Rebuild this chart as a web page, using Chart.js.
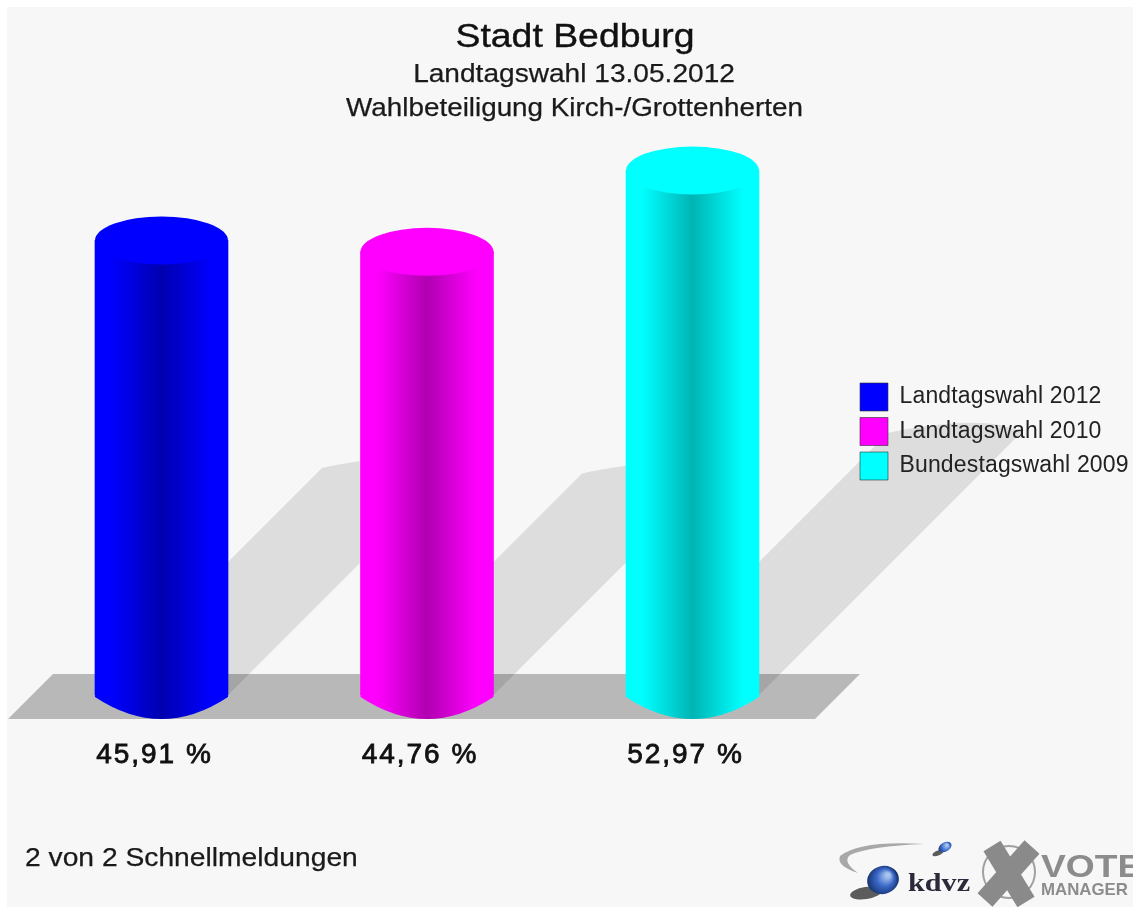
<!DOCTYPE html>
<html>
<head>
<meta charset="utf-8">
<style>
html,body{margin:0;padding:0;background:#f7f7f7;}
canvas{display:block;filter:blur(0.7px);}
</style>
<script src="https://cdn.jsdelivr.net/npm/chart.js@4/dist/chart.umd.min.js"></script>
</head>
<body>
<div style="width:1133px;height:907px"><canvas id="c" width="1133" height="907"></canvas></div>
<script>
const categories = ['Landtagswahl 2012','Landtagswahl 2010','Bundestagswahl 2009'];
const values = [45.91,44.76,52.97];
const tickLabels = ['45,91 %','44,76 %','52,97 %'];
const edgeColors = ['#0000ff','#ff00ff','#00ffff'];
const coreColors = ['#0000b0','#b000b0','#00b4b4'];
const titleLines = ['Stadt Bedburg','Landtagswahl 13.05.2012','Wahlbeteiligung Kirch-/Grottenherten'];
const footerText = '2 von 2 Schnellmeldungen';

const FONT = '"Liberation Sans", Arial, sans-serif';
const BAR_W = 133;
const TOP_RY = 24;

function barGradient(chart,i){
  const x = chart.scales.x.getPixelForValue(i);
  const g = chart.ctx.createLinearGradient(x-BAR_W/2,0,x+BAR_W/2,0);
  g.addColorStop(0,edgeColors[i]);
  g.addColorStop(0.12,edgeColors[i]);
  g.addColorStop(0.5,coreColors[i]);
  g.addColorStop(0.88,edgeColors[i]);
  g.addColorStop(1,edgeColors[i]);
  return g;
}

function text(ctx,str,x,y,font,color,sx,align,stroke){
  ctx.save();
  ctx.translate(x,y);
  ctx.scale(sx||1,1);
  ctx.font = font; ctx.fillStyle = color;
  ctx.letterSpacing = '0px';
  ctx.textAlign = align||'left'; ctx.textBaseline='alphabetic';
  ctx.fillText(str,0,0);
  if(stroke){ctx.strokeStyle=color;ctx.lineWidth=stroke;ctx.strokeText(str,0,0);}
  ctx.restore();
}

function drawLogo(ctx){
  ctx.save();
  // swoosh
  ctx.fillStyle='#a8a8a8';
  ctx.beginPath();
  ctx.moveTo(925,844);
  ctx.quadraticCurveTo(860,840,840,856);
  ctx.quadraticCurveTo(836,866,858,873);
  ctx.quadraticCurveTo(842,862,850,855);
  ctx.quadraticCurveTo(870,846,925,844);
  ctx.fill();
  // sphere shadows
  ctx.fillStyle='rgba(40,40,40,0.75)';
  ctx.beginPath(); ctx.ellipse(866,893,16,6,-0.15,0,Math.PI*2); ctx.fill();
  ctx.beginPath(); ctx.ellipse(938,853,6,2.5,-0.4,0,Math.PI*2); ctx.fill();
  // spheres
  let g=ctx.createRadialGradient(888,875,2,882,881,17);
  g.addColorStop(0,'#a8c4ee'); g.addColorStop(0.45,'#3a68c8'); g.addColorStop(1,'#10285c');
  ctx.fillStyle=g; ctx.beginPath(); ctx.ellipse(883,880,16,14,-0.3,0,Math.PI*2); ctx.fill();
  g=ctx.createRadialGradient(947,845,1,945,848,8);
  g.addColorStop(0,'#a8c4ee'); g.addColorStop(0.5,'#3a68c8'); g.addColorStop(1,'#10285c');
  ctx.fillStyle=g; ctx.beginPath(); ctx.ellipse(945,847,7,4.5,-0.5,0,Math.PI*2); ctx.fill();
  text(ctx,'kdvz',908,891,'bold 26px "Liberation Serif", serif','#2a2a3a',1.16);
  // circle and cross
  ctx.strokeStyle='#a0a0a0'; ctx.lineWidth=2;
  ctx.beginPath(); ctx.arc(1009,872,26,0,Math.PI*2); ctx.stroke();
  ctx.strokeStyle='#8a8a8a'; ctx.lineWidth=20; ctx.lineCap='butt';
  ctx.beginPath(); ctx.moveTo(992,846); ctx.lineTo(1026,902); ctx.stroke();
  ctx.beginPath(); ctx.moveTo(1032,847); ctx.lineTo(985,900); ctx.stroke();
  text(ctx,'VOTE',1041,877,'bold 31px '+FONT,'#8c8c8c',1.2);
  text(ctx,'MANAGER',1041,895,'bold 17px '+FONT,'#8c8c8c',0.99);
  ctx.restore();
}

const cylinderPlugin = {
  id:'cylinders',
  afterLayout(chart){
    const lg = chart.legend;
    const h = lg.height;
    lg.left = 853.5; lg.right = 1133; lg.width = lg.right-lg.left;
    lg.top = 376.5; lg.bottom = lg.top+h;
  },
  beforeDraw(chart){
    const ctx = chart.ctx, xs = chart.scales.x, ys = chart.scales.y;
    const base = ys.getPixelForValue(0);
    ctx.save();
    ctx.fillStyle='#ffffff';
    ctx.fillRect(0,0,chart.width,chart.height);
    ctx.fillStyle='#f7f7f7';
    ctx.fillRect(7,7,chart.width-7,chart.height-7);
    // floor
    ctx.fillStyle='#b8b8b8';
    ctx.beginPath();
    ctx.moveTo(8,base+24); ctx.lineTo(53,base-21); ctx.lineTo(860,base-21); ctx.lineTo(815,base+24);
    ctx.closePath(); ctx.fill();
    // sheared shadows
    ctx.fillStyle='rgba(0,0,0,0.1)';
    values.forEach((v,i)=>{
      const cx = xs.getPixelForValue(i);
      const s = (base-ys.getPixelForValue(v))/2;
      const r = BAR_W/2, tx = cx+s, ty = base-s;
      ctx.beginPath();
      ctx.moveTo(cx-r,base);
      ctx.lineTo(tx-r,ty);
      ctx.bezierCurveTo(tx-30,ty-8,tx+40,ty-18,tx+r,ty);
      ctx.lineTo(cx+r,base);
      ctx.closePath();
      ctx.fill();
    });
    ctx.restore();
    ctx.letterSpacing='0.15px';
  },
  afterDatasetsDraw(chart){
    const ctx = chart.ctx, xs = chart.scales.x, ys = chart.scales.y;
    const base = ys.getPixelForValue(0);
    ctx.save();
    values.forEach((v,i)=>{
      const cx = xs.getPixelForValue(i), top = ys.getPixelForValue(v), r = BAR_W/2;
      ctx.fillStyle = barGradient(chart,i);
      ctx.beginPath();
      ctx.moveTo(cx-r,base-1);
      ctx.lineTo(cx-r,base+2);
      ctx.quadraticCurveTo(cx,base+46,cx+r,base+2);
      ctx.lineTo(cx+r,base-1);
      ctx.closePath();
      ctx.fill();
      ctx.fillStyle = edgeColors[i];
      ctx.beginPath();
      ctx.ellipse(cx,top,r,TOP_RY,0,0,Math.PI*2);
      ctx.fill();
    });
    ctx.restore();
    ctx.letterSpacing='2px';
  },
  afterDraw(chart){
    const ctx = chart.ctx;
    ctx.letterSpacing='0px';
    const col='#1a1a1a';
    text(ctx,titleLines[0],575,47,'34px '+FONT,'#111',1.1,'center',0.4);
    text(ctx,titleLines[1],574,82,'26.5px '+FONT,col,1.06,'center',0.25);
    text(ctx,titleLines[2],574.5,116,'26.5px '+FONT,col,1.05,'center',0.25);
    text(ctx,footerText,25,866,'26px '+FONT,col,1.086,'left',0.25);
    drawLogo(ctx);
  }
};

new Chart(document.getElementById('c'),{
  type:'bar',
  plugins:[cylinderPlugin],
  data:{
    labels:tickLabels,
    datasets:[{
      data:values,
      barThickness:BAR_W,
      borderWidth:0,
      backgroundColor:(c)=> (c.chart.chartArea && c.dataIndex!==undefined) ? barGradient(c.chart,c.dataIndex) : edgeColors[c.dataIndex||0]
    }]
  },
  options:{
    responsive:false,
    animation:false,
    devicePixelRatio:1,
    layout:{padding:{left:28.75,right:307.75,top:167,bottom:0}},
    scales:{
      x:{
        grid:{display:false},
        border:{display:false},
        afterFit(s){s.height=212;},
        ticks:{z:1,padding:35,labelOffset:-7,color:'#111',textStrokeColor:'#111',textStrokeWidth:0.8,maxRotation:0,autoSkip:false,font:{family:FONT,size:28}}
      },
      y:{display:false,min:0,max:53.33}
    },
    plugins:{
      title:{display:false},
      tooltip:{enabled:false},
      legend:{
        display:true,
        position:'chartArea',
        align:'start',
        onClick:null,
        labels:{
          boxWidth:28,boxHeight:28,padding:6.5,color:'#222',
          font:{family:FONT,size:23},
          generateLabels:()=>categories.map((t,i)=>({text:t,fillStyle:edgeColors[i],strokeStyle:'#333',lineWidth:0.6,hidden:false,index:i,fontColor:'#222'}))
        }
      }
    }
  }
});
</script>
</body>
</html>
